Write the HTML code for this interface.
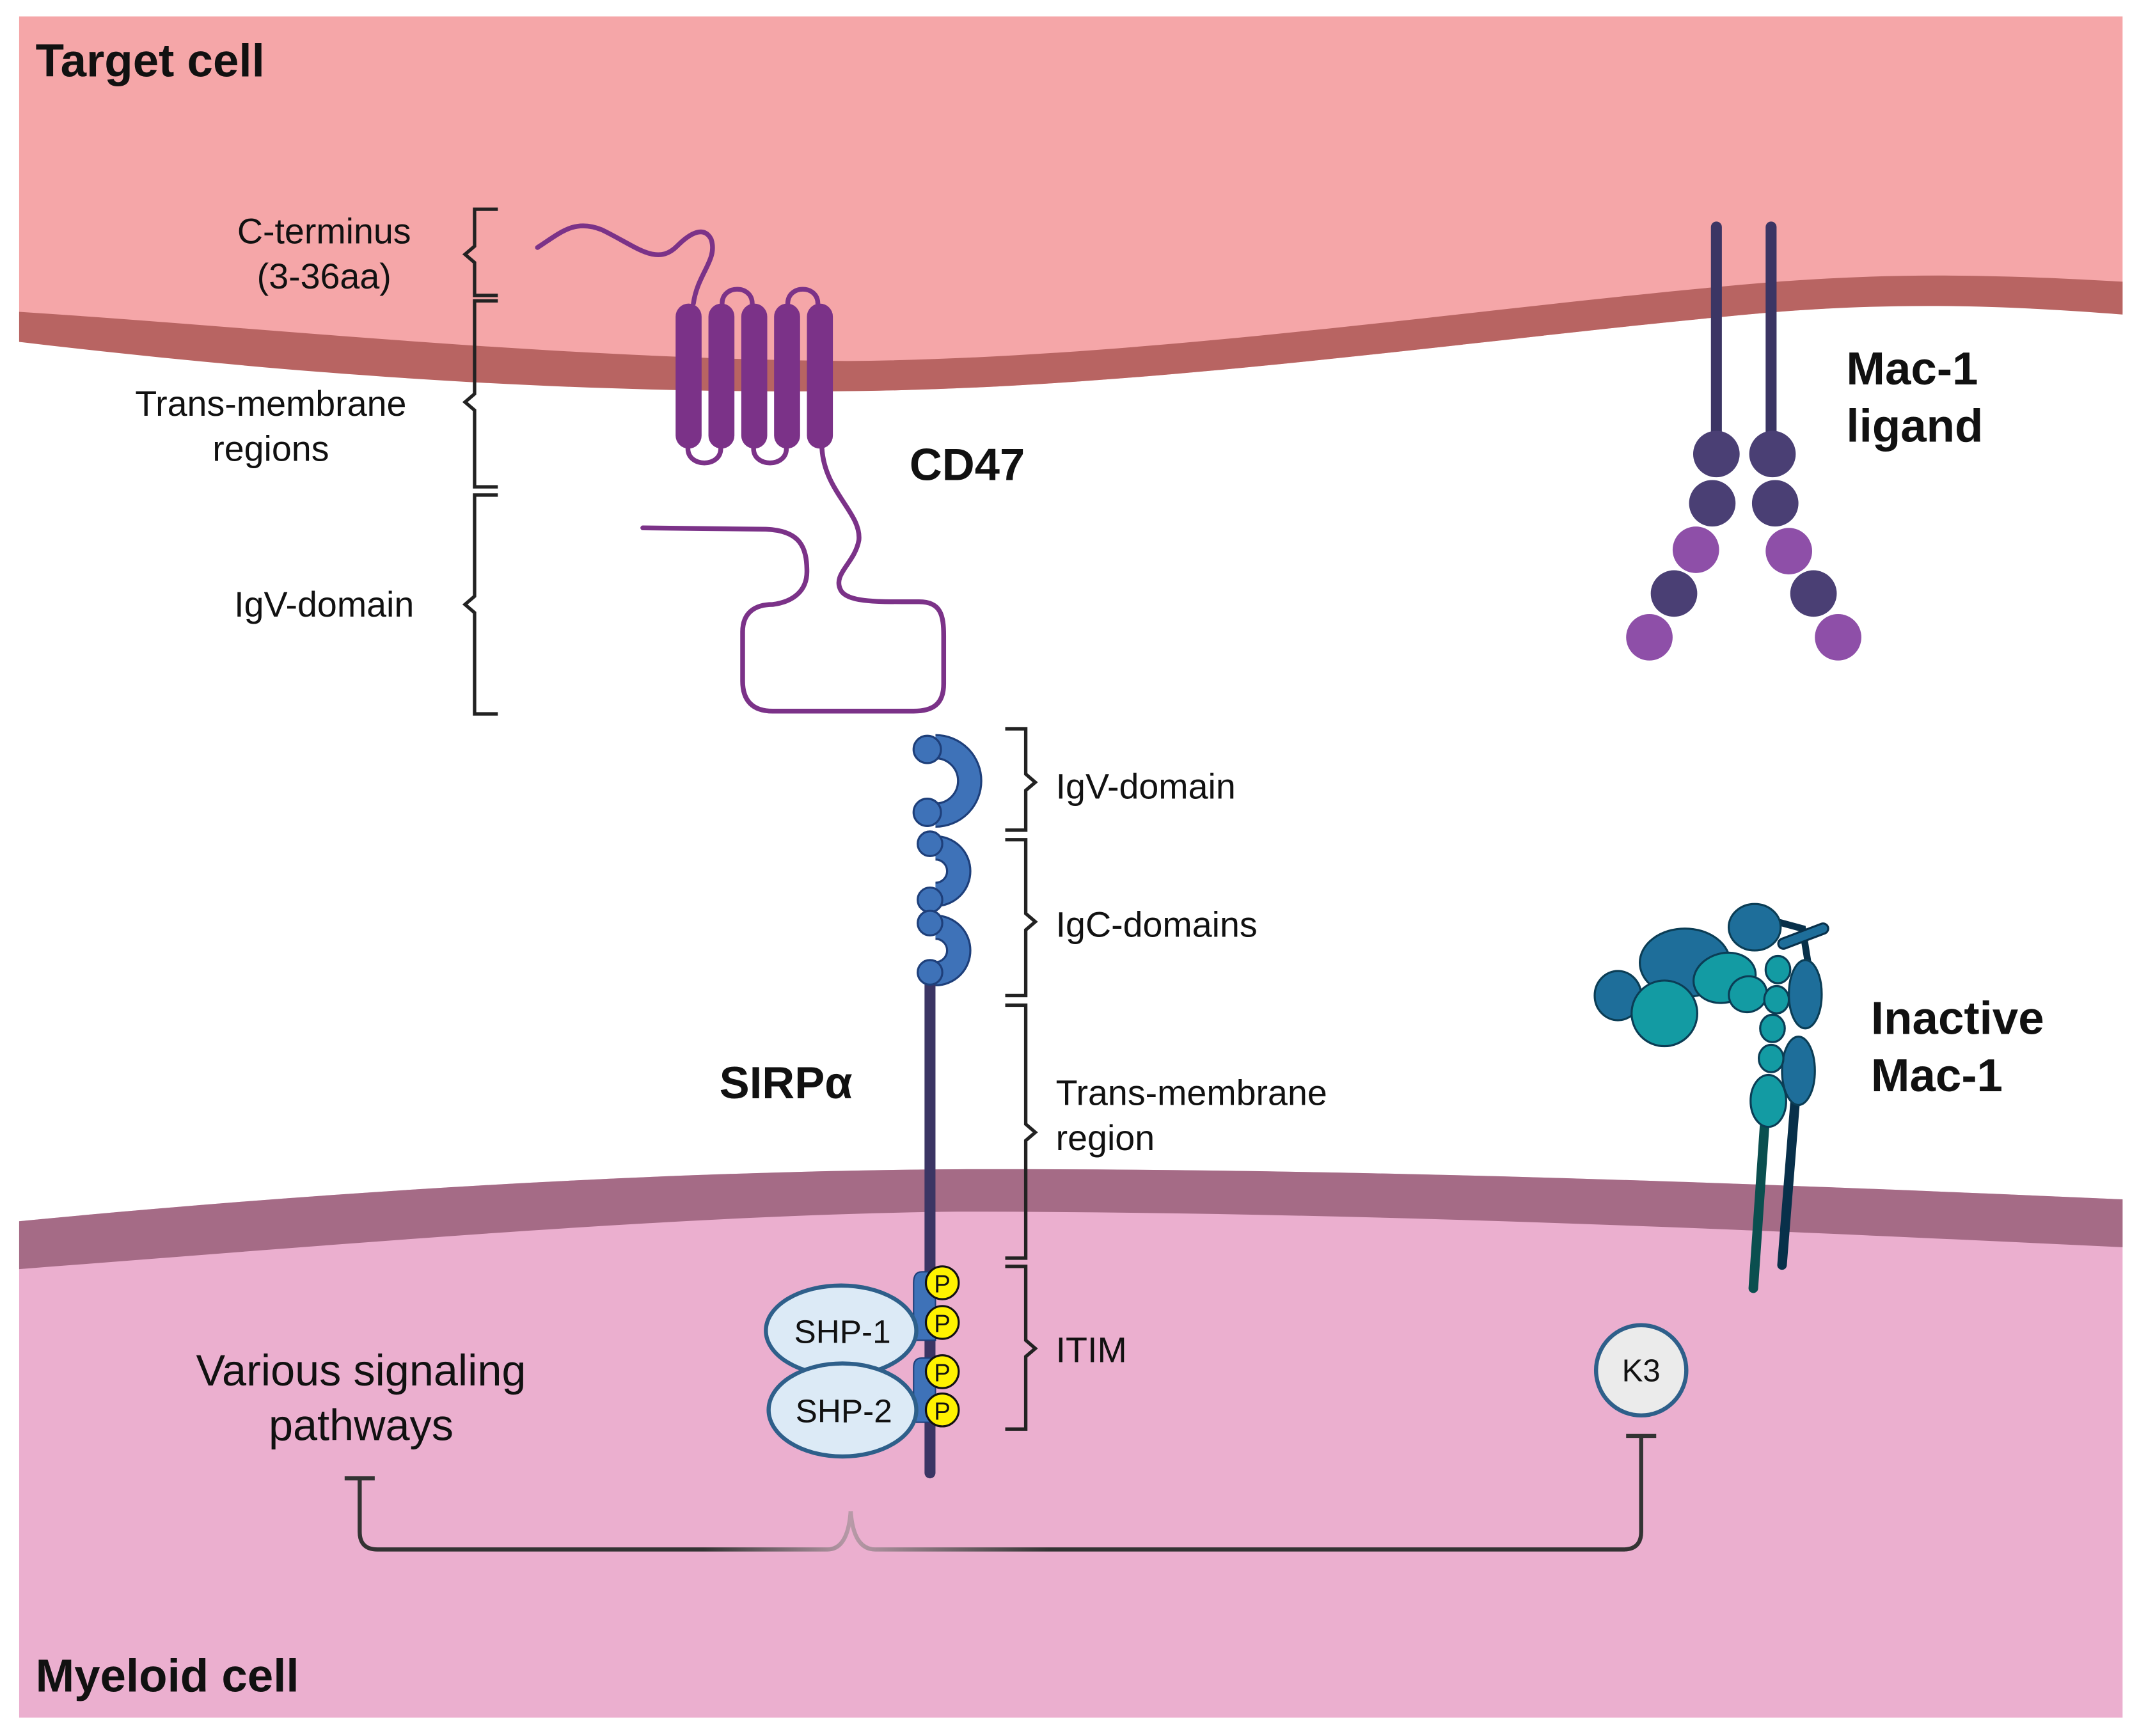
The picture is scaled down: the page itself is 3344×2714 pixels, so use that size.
<!DOCTYPE html>
<html><head><meta charset="utf-8"><style>
html,body{margin:0;padding:0;background:#fff}
svg{display:block}
text{font-family:"Liberation Sans",sans-serif;fill:#111}
.b{font-weight:bold}
</style></head><body>
<svg width="3344" height="2714" viewBox="0 0 1564 1269.4" preserveAspectRatio="none" xmlns="http://www.w3.org/2000/svg">
<defs>
<linearGradient id="gl" x1="263" y1="0" x2="622" y2="0" gradientUnits="userSpaceOnUse">
<stop offset="0.7" stop-color="#333"/><stop offset="1" stop-color="#b89aa8"/></linearGradient>
<linearGradient id="gr" x1="622" y1="0" x2="1200" y2="0" gradientUnits="userSpaceOnUse">
<stop offset="0" stop-color="#b89aa8"/><stop offset="0.25" stop-color="#333"/></linearGradient>
</defs>
<rect width="1564" height="1270" fill="#fff"/>
<!-- bottom cell -->
<path d="M14 1256 L14 893 C250 870 500 856 700 855 C1000 854 1300 866 1552 877 L1552 1256 Z" fill="#EBAFCF"/>
<path d="M14 893 C250 870 500 856 700 855 C1000 854 1300 866 1552 877 L1552 912 C1300 900 1000 886 700 886 C500 888 250 910 14 928 Z" fill="#A56B86"/>
<!-- top cell -->
<path d="M14 12 L1552 12 L1552 229 C1450 220 1380 222 1300 228 C1100 245 850 284 620 286 C400 288 200 262 14 250 Z" fill="#F5A6A8"/>
<path d="M14 228 C200 240 400 262 620 264 C850 262 1100 222 1300 206 C1380 200 1450 200 1552 206 L1552 230 C1450 222 1380 222 1300 228 C1100 245 850 284 620 286 C400 288 200 272 14 250 Z" fill="#B86462"/>
<text x="26" y="56" class="b" font-size="34">Target cell</text>
<text x="26" y="1237" class="b" font-size="34">Myeloid cell</text>

<!-- CD47 -->
<g fill="#7B3288">
<rect x="494" y="222" width="19" height="106" rx="9.5"/>
<rect x="518" y="222" width="19" height="106" rx="9.5"/>
<rect x="542" y="222" width="19" height="106" rx="9.5"/>
<rect x="566" y="222" width="19" height="106" rx="9.5"/>
<rect x="590" y="222" width="19" height="106" rx="9.5"/>
</g>
<g fill="none" stroke="#7B3288" stroke-width="3.5" stroke-linecap="round">
<path d="M393 181 C410 170 420 160 440 168 C465 180 480 195 495 180 C505 170 515 165 520 175 C525 190 510 200 507 222"/>
<path d="M528 222 C528 208 550 208 550 222"/>
<path d="M576 222 C576 208 598 208 598 222"/>
<path d="M503 328 C503 342 527 342 527 328"/>
<path d="M551 328 C551 342 575 342 575 328"/>
<path d="M601 328 C603 360 630 375 628 395 C625 412 608 420 615 432 C620 440 640 440 660 440 L672 440 C688 440 690 450 690 465 L690 500 C690 515 682 520 668 520 L565 520 C550 520 543 512 543 498 L543 462 C543 448 552 442 565 442 C580 440 590 432 590 418 C590 400 585 388 560 387 L470 386"/>
</g>
<text x="665" y="351" class="b" font-size="33">CD47</text>

<!-- left brackets -->
<g fill="none" stroke="#222" stroke-width="2.5">
<path d="M364 153 L347 153 L347 180 L340 186 L347 192 L347 216 L364 216"/>
<path d="M364 220 L347 220 L347 288 L340 294 L347 300 L347 356 L364 356"/>
<path d="M364 362 L347 362 L347 436 L340 442 L347 448 L347 522 L364 522"/>
</g>
<g font-size="26" text-anchor="middle">
<text x="237" y="178">C-terminus</text>
<text x="237" y="211">(3-36aa)</text>
<text x="198" y="304">Trans-membrane</text>
<text x="198" y="337">regions</text>
<text x="237" y="451">IgV-domain</text>
</g>

<!-- SIRPa -->
<line x1="680" y1="715" x2="680" y2="1077" stroke="#3B3564" stroke-width="8" stroke-linecap="round"/>
<g fill="none" stroke="#1E3F7A" stroke-width="18.5">
<path d="M684 546 A25 25 0 1 1 684 596"/>
<path d="M684 620 A17 17 0 1 1 684 654"/>
<path d="M684 678 A17 17 0 1 1 684 712"/>
</g>
<g fill="none" stroke="#3E72B8" stroke-width="15.5">
<path d="M684 546 A25 25 0 1 1 684 596"/>
<path d="M684 620 A17 17 0 1 1 684 654"/>
<path d="M684 678 A17 17 0 1 1 684 712"/>
</g>
<g fill="#3E72B8" stroke="#1E3F7A" stroke-width="1.5">
<circle cx="678" cy="548" r="10"/><circle cx="678" cy="594" r="10"/>
<circle cx="680" cy="617" r="9"/><circle cx="680" cy="658" r="9"/>
<circle cx="680" cy="675" r="9"/><circle cx="680" cy="711" r="9"/>
</g>
<text x="526" y="803" class="b" font-size="33">SIRPα</text>
<!-- right brackets -->
<g fill="none" stroke="#222" stroke-width="2.5">
<path d="M735 533 L750 533 L750 566 L757 572 L750 578 L750 607 L735 607"/>
<path d="M735 614 L750 614 L750 668 L757 674 L750 680 L750 728 L735 728"/>
<path d="M735 735 L750 735 L750 822 L757 828 L750 834 L750 920 L735 920"/>
<path d="M735 926 L750 926 L750 980 L757 986 L750 992 L750 1045 L735 1045"/>
</g>
<g font-size="26">
<text x="772" y="584">IgV-domain</text>
<text x="772" y="685">IgC-domains</text>
<text x="772" y="808">Trans-membrane</text>
<text x="772" y="841">region</text>
<text x="772" y="996">ITIM</text>
</g>
<!-- ITIM tabs -->
<g fill="#3E72B8" stroke="#1E3F7A" stroke-width="1">
<path d="M684 930 L674 930 Q668 930 668 938 L668 980 L684 980 Z"/>
<path d="M684 993 L674 993 Q668 993 668 1000 L668 1040 L684 1040 Z"/>
</g>
<g fill="#DCEAF6" stroke="#2E5F8A" stroke-width="3">
<ellipse cx="615" cy="973" rx="55" ry="33"/>
<ellipse cx="616" cy="1031" rx="54" ry="34"/>
</g>
<text x="616" y="982" font-size="24" text-anchor="middle">SHP-1</text>
<text x="617" y="1040" font-size="24" text-anchor="middle">SHP-2</text>
<g fill="#FFF200" stroke="#111" stroke-width="1.5">
<circle cx="689" cy="938" r="12"/><circle cx="689" cy="967" r="12"/>
<circle cx="689" cy="1003" r="12"/><circle cx="689" cy="1031" r="12"/>
</g>
<g font-size="18" text-anchor="middle">
<text x="689" y="945">P</text><text x="689" y="974">P</text>
<text x="689" y="1010">P</text><text x="689" y="1038">P</text>
</g>

<!-- connectors -->
<g fill="none" stroke-width="3">
<path d="M252 1081 L274 1081 M263 1081 L263 1120 Q263 1133 276 1133 L605 1133 Q620 1133 622 1105" stroke="url(#gl)"/>
<path d="M622 1105 Q624 1133 640 1133 L1187 1133 Q1200 1133 1200 1120 L1200 1050 M1189 1050 L1211 1050" stroke="url(#gr)"/>
</g>
<text x="264" y="1013" font-size="32" text-anchor="middle">Various signaling</text>
<text x="264" y="1053" font-size="32" text-anchor="middle">pathways</text>
<circle cx="1200" cy="1002" r="33" fill="#EBEBEB" stroke="#2E5F8A" stroke-width="3"/>
<text x="1200" y="1010" font-size="23" text-anchor="middle">K3</text>

<!-- Mac-1 ligand -->
<g stroke="#3B3564" stroke-width="8" stroke-linecap="round">
<line x1="1255" y1="166" x2="1255" y2="330"/><line x1="1295" y1="166" x2="1295" y2="330"/>
</g>
<g fill="#4A3F74">
<circle cx="1255" cy="332" r="17"/><circle cx="1252" cy="368" r="17"/><circle cx="1224" cy="434" r="17"/>
<circle cx="1296" cy="332" r="17"/><circle cx="1298" cy="368" r="17"/><circle cx="1326" cy="434" r="17"/>
</g>
<g fill="#8E4FA8">
<circle cx="1240" cy="402" r="17"/><circle cx="1206" cy="466" r="17"/>
<circle cx="1308" cy="403" r="17"/><circle cx="1344" cy="466" r="17"/>
</g>
<text x="1350" y="281" class="b" font-size="34">Mac-1</text>
<text x="1350" y="323" class="b" font-size="34">ligand</text>

<!-- Inactive Mac-1 -->
<g stroke-linecap="round">
<line x1="1291" y1="812" x2="1282" y2="942" stroke="#0A4F4F" stroke-width="7"/>
<line x1="1313" y1="800" x2="1303" y2="925" stroke="#08304A" stroke-width="7"/>
<path d="M1292 672 L1318 679 L1322 704" fill="none" stroke="#08304A" stroke-width="5"/>
<line x1="1304" y1="690" x2="1333" y2="679" stroke="#08304A" stroke-width="9"/>
<line x1="1304" y1="690" x2="1333" y2="679" stroke="#1E6E9A" stroke-width="6"/>
</g>
<g stroke="#0B3D55" stroke-width="1.5">
<ellipse cx="1232" cy="704" rx="33" ry="25" fill="#1E6E9A"/>
<ellipse cx="1183" cy="728" rx="17" ry="18" fill="#1E6E9A"/>
<ellipse cx="1283" cy="678" rx="19" ry="17" fill="#1E6E9A"/>
<ellipse cx="1320" cy="727" rx="12" ry="25" fill="#1E6E9A"/>
<ellipse cx="1315" cy="783" rx="12" ry="25" fill="#1E6E9A"/>
<ellipse cx="1217" cy="741" rx="24" ry="24" fill="#139BA3"/>
<ellipse cx="1261" cy="715" rx="23" ry="18" fill="#139BA3" transform="rotate(-15 1261 715)"/>
<ellipse cx="1278" cy="727" rx="14" ry="13" fill="#139BA3" transform="rotate(-20 1278 727)"/>
<ellipse cx="1300" cy="709" rx="9" ry="10" fill="#139BA3"/>
<ellipse cx="1299" cy="731" rx="9" ry="10" fill="#139BA3"/>
<ellipse cx="1296" cy="752" rx="9" ry="10" fill="#139BA3"/>
<ellipse cx="1295" cy="774" rx="9" ry="10" fill="#139BA3"/>
<ellipse cx="1293" cy="805" rx="13" ry="19" fill="#139BA3"/>
</g>
<text x="1368" y="756" class="b" font-size="34">Inactive</text>
<text x="1368" y="798" class="b" font-size="34">Mac-1</text>
</svg>
</body></html>
